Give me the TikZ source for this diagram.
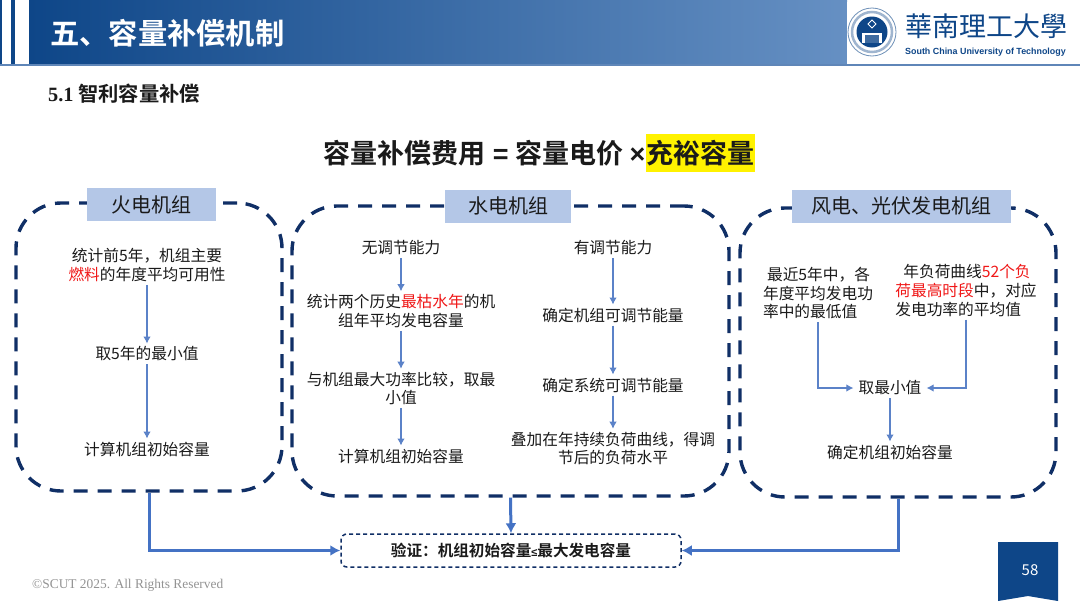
\documentclass[tikz,border=0pt]{standalone}
\usepackage{fontspec}
\setmainfont{Noto Sans CJK SC}[BoldFont={Noto Sans CJK SC Bold}]
\newfontfamily\timesfont{Liberation Serif}
\newfontfamily\logofont{Liberation Sans}
\newfontfamily\logocjk{Noto Sans CJK TC}
\usetikzlibrary{positioning, arrows.meta}

\definecolor{headleft}{HTML}{0E4688}
\definecolor{headright}{HTML}{6690C3}
\definecolor{headline}{HTML}{5F86B8}
\definecolor{dashnavy}{HTML}{102F66}
\definecolor{labelblue}{HTML}{B4C7E7}
\definecolor{arrowblue}{HTML}{4472C4}
\definecolor{thinblue}{HTML}{5B82C8}
\definecolor{markred}{HTML}{F01818}
\definecolor{inkblack}{HTML}{1A1A1A}

\newcommand{\redpart}[1]{\textcolor{markred}{#1}}

\begin{document}
\begin{tikzpicture}[
    x=1pt,
    y=-1pt,
    >=Latex,
    every node/.style={align=center, text=inkblack},
    groupbox/.style={
        draw=dashnavy,
        line width=3.4pt,
        dash pattern=on 14pt off 10pt,
        rounded corners=45pt
    },
    grouplabel/.style={
        fill=labelblue,
        inner sep=0pt,
        minimum height=33pt,
        font=\fontsize{20}{24}\selectfont
    },
    stepnode/.style={
        inner xsep=5pt,
        inner ysep=3pt,
        font=\fontsize{15.7}{18.6}\selectfont
    },
    thinarrow/.style={
        ->,
        draw=thinblue,
        line width=1.1pt,
        >={Latex[length=7pt,width=7.5pt]}
    },
    thickarrow/.style={
        ->,
        draw=arrowblue,
        line width=3pt,
        >={Latex[length=10pt,width=11pt]}
    }
]

\useasboundingbox (0,0) rectangle (1080,608);
\fill[white] (0,0) rectangle (1080,608);

% =================================================
% HEADER
% =================================================

\fill[headleft] (0,0) rectangle (29,64);
\fill[white] (2,0) rectangle (11,64);
\fill[white] (15,0) rectangle (29,64);
\shade[left color=headleft, right color=headright] (29,0) rectangle (847,64);
\fill[headline] (0,64) rectangle (1080,66);

\node[
    anchor=west,
    inner sep=0pt,
    text=white,
    font=\fontsize{29.3}{32}\selectfont\bfseries
] (headtitle) at (50,33)
{五、容量补偿机制};

% Logo
\fill[white] (847,2) rectangle (1076,64);
\draw[headleft!60, line width=0.8pt] (872,32) circle (24);
\draw[headleft!40, line width=2.5pt] (872,32) circle (20);
\fill[headleft] (872,32) circle (15.5);
\fill[white] (862,33) rectangle (882,43);
\fill[headleft!80] (865,35) rectangle (879,43);
\draw[white, line width=0.8pt] (868,24) -- (872,20) -- (876,24) -- (872,28) -- cycle;

\node[
    anchor=west,
    inner sep=0pt,
    text=headleft,
    font=\fontsize{27}{30}\selectfont\logocjk
] (logocn) at (905,26)
{華南理工大學};

\node[
    anchor=west,
    inner sep=0pt,
    text=headleft,
    font=\fontsize{8.9}{10}\selectfont\logofont\bfseries
] (logoen) at (905,52)
{South China University of Technology};

% =================================================
% SECTION AND FORMULA
% =================================================

\node[
    anchor=west,
    inner sep=0pt,
    font=\fontsize{20.3}{24}\selectfont\bfseries
] (section) at (48,94)
{{\timesfont 5.1} 智利容量补偿};

\node[
    anchor=west,
    fill=yellow,
    inner sep=0pt,
    minimum width=109pt,
    minimum height=38pt,
    font=\fontsize{27}{30}\selectfont\bfseries
] (surplus) at (646,153)
{充裕容量};

\node[
    left=0pt of surplus,
    inner sep=0pt,
    font=\fontsize{27}{30}\selectfont\bfseries
] (formula)
{容量补偿费用\hspace{7pt}{\logofont =}\hspace{7pt}容量电价\hspace{6pt}{\logofont ×}\hspace{0.5pt}};

% =================================================
% GROUP BOXES
% =================================================

\node[groupbox, minimum width=266pt, minimum height=288pt] (thermal) at (149,347) {};
\node[groupbox, minimum width=437pt, minimum height=290pt] (hydro) at (510.5,351) {};
\node[groupbox, minimum width=316pt, minimum height=289pt] (wind) at (898,352.5) {};

\node[grouplabel, minimum width=129pt] (thermallabel) at (151.5,204.5) {火电机组};
\node[grouplabel, minimum width=126pt] (hydrolabel) at (508,206) {水电机组};
\node[grouplabel, minimum width=219pt] (windlabel) at (901.5,206) {风电、光伏发电机组};

% =================================================
% THERMAL
% =================================================

\node[stepnode] (t1) at (147,265)
{统计前5年，机组主要\\
\redpart{燃料}的年度平均可用性};
\node[stepnode] (t2) at (147,354) {取5年的最小值};
\node[stepnode] (t3) at (147,449) {计算机组初始容量};

% =================================================
% HYDRO
% =================================================

% No regulating ability
\node[stepnode] (h1) at (401,248) {无调节能力};
\node[stepnode] (h2) at (401,311)
{统计两个历史\redpart{最枯水年}的机\\
组年平均发电容量};
\node[stepnode] (h3) at (401,388.5)
{与机组最大功率比较，取最\\
小值};
\node[stepnode] (h4) at (401,456) {计算机组初始容量};

% With regulating ability
\node[stepnode] (r1) at (613,248) {有调节能力};
\node[stepnode] (r2) at (613,315) {确定机组可调节能量};
\node[stepnode] (r3) at (613,385) {确定系统可调节能量};
\node[stepnode] (r4) at (613,448.5)
{叠加在年持续负荷曲线，得调\\
节后的负荷水平};

% =================================================
% WIND AND SOLAR
% =================================================

\node[stepnode, align=left] (w1) at (818,293)
{\hspace*{4pt}最近5年中，各\\
年度平均发电功\\
率中的最低值};
\node[stepnode, align=left] (w2) at (966,290.5)
{\hspace*{8pt}年负荷曲线\redpart{52个负}\\
\redpart{荷最高时段}中，对应\\
发电功率的平均值};
\node[stepnode] (w3) at (890,388) {取最小值};
\node[stepnode] (w4) at (890,452) {确定机组初始容量};

% Inner arrows
\foreach \a/\b in {t1/t2, t2/t3, h1/h2, h2/h3, h3/h4, r1/r2, r2/r3, r3/r4, w3/w4}{
    \draw[thinarrow] (\a) -- (\b);
}
\draw[thinarrow] (w1.south) |- (w3.west);
\draw[thinarrow] (w2.south) |- (w3.east);

% =================================================
% VERIFICATION
% =================================================

\node[
    draw=dashnavy,
    line width=1.5pt,
    dash pattern=on 4pt off 3pt,
    rounded corners=6pt,
    minimum width=340pt,
    minimum height=33pt,
    font=\fontsize{15.6}{18}\selectfont\bfseries
] (verify) at (511,550.5)
{验证：机组初始容量{\logofont\fontsize{11}{18}\selectfont ≤}最大发电容量};

\draw[thickarrow] (thermal.south) |- (verify.west);
\draw[thickarrow] (hydro.south) -- (verify.north);
\draw[thickarrow] (wind.south) |- (verify.east);

% =================================================
% FOOTER
% =================================================

\node[
    anchor=west,
    inner sep=0pt,
    text=gray!85,
    font=\fontsize{13.4}{15}\selectfont\timesfont
] (copyright) at (32,585.5)
{©SCUT 2025. All Rights Reserved};

\fill[headleft] (998,542) -- (1058,542) -- (1058,601) -- (1028,596) -- (998,601) -- cycle;
\node[
    text=white,
    font=\fontsize{15}{18}\selectfont
] (pagenum) at (1030,570)
{58};

\end{tikzpicture}
\end{document}
